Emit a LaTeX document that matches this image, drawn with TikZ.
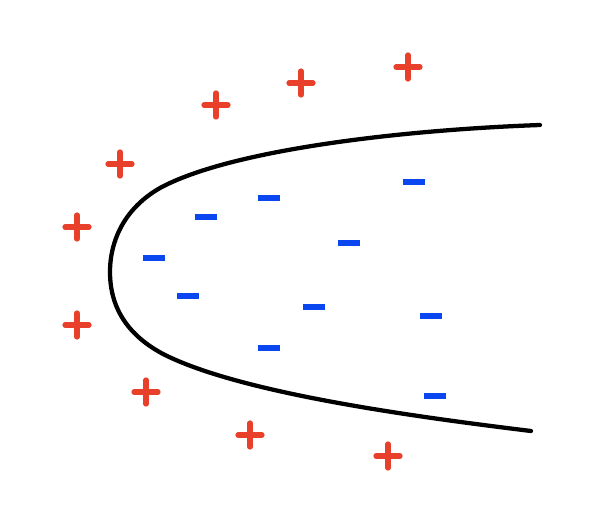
\documentclass[tikz,border=0pt]{standalone}
\definecolor{plusred}{HTML}{E8402A}
\definecolor{minusblue}{HTML}{0A47F0}
\tikzset{
  pics/plussign/.style={code={
    \draw[plusred,line width=3.9pt,line cap=round] (-12,0) -- (12,0);
    \draw[plusred,line width=3.9pt,line cap=round] (0,-12) -- (0,12);
  }},
  pics/minussign/.style={code={
    \draw[minusblue,line width=4.5pt] (-11,0) -- (11,0);
  }},
  boundary/.style={line width=3.2pt,line cap=round}
}
\begin{document}
\begin{tikzpicture}[x=0.75pt,y=-0.75pt]
\useasboundingbox (0,0) rectangle (596,506);
% boundary curve
\draw[boundary] (540,125) .. controls (400,130) and (230,150) .. (160,188)
  .. controls (125,208) and (110,240) .. (110,272)
  .. controls (110,310) and (130,337) .. (165,355)
  .. controls (240,392) and (400,415) .. (531,431);
% positive charges
\foreach \x/\y in {216/105,301/83,408/67,120/164,77/227,77/325,146/392,250/435,388/456}
  \pic at (\x,\y) {plussign};
% negative charges
\foreach \x/\y in {414/182,269/198,206/217,349/243,154/258,188/296,314/307,431/316,269/348,435/396}
  \pic at (\x,\y) {minussign};
\end{tikzpicture}
\end{document}
